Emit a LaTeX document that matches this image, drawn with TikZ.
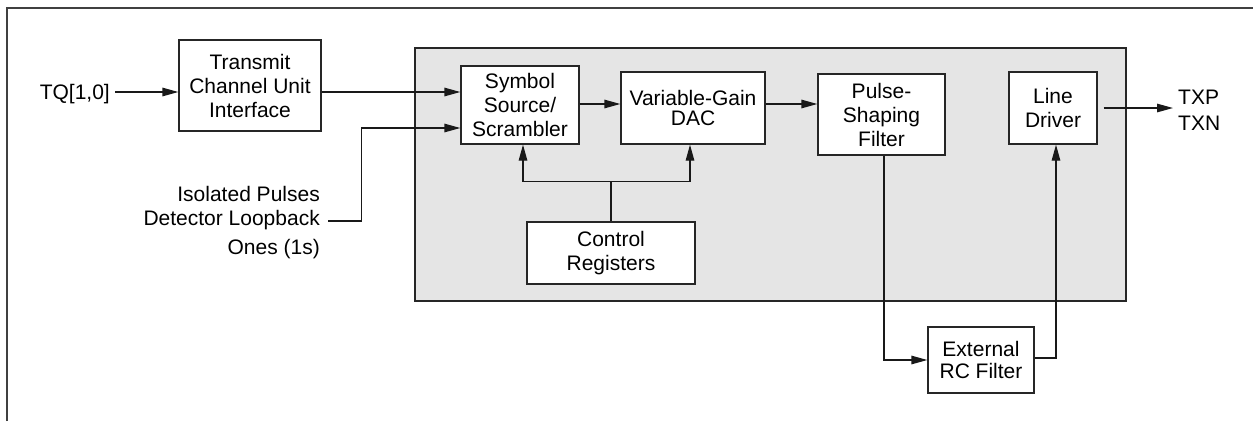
\documentclass[tikz,border=0pt]{standalone}
\usepackage{fontspec}
\setmainfont{Liberation Sans}
\usetikzlibrary{arrows.meta}
\begin{document}
\begin{tikzpicture}[x=1pt,y=-1pt,
  blk/.style={draw=black!85, line width=1.3pt, fill=white, align=center, inner sep=0pt, font=\fontsize{21}{24}\selectfont},
  lbl/.style={inner sep=0pt, font=\fontsize{21}{24}\selectfont},
  conn/.style={line width=1.3pt, draw=black!90},
  arr/.style={conn, -{Triangle[length=16pt,width=8.5pt]}},
]
\useasboundingbox (0,0) rectangle (1253,421);
\draw[line width=2pt, black!75] (7,421) -- (7,8) -- (1253,8);
\node[draw=black!85, line width=1.5pt, fill=black!10, minimum width=711pt, minimum height=253pt, inner sep=0pt] (chip) at (770.5,174.5) {};

\node[blk, minimum width=142pt, minimum height=91pt] (tcui) at (250,85.5) {Transmit\\Channel Unit\\Interface};
\node[blk, minimum width=118pt, minimum height=78pt] (sym) at (520,105) {Symbol\\Source/\\Scrambler};
\node[blk, minimum width=144pt, minimum height=72pt, font=\fontsize{21}{20}\selectfont] (dac) at (693,108) {Variable-Gain\\DAC};
\node[blk, minimum width=127pt, minimum height=81pt] (psf) at (881.5,114.5) {Pulse-\\Shaping\\Filter};
\node[blk, minimum width=168pt, minimum height=62pt] (cr) at (611,253) {Control\\Registers};
\node[blk, minimum width=88pt, minimum height=72pt] (ld) at (1053,108) {Line\\Driver};
\node[blk, minimum width=106pt, minimum height=66pt, font=\fontsize{21}{22}\selectfont] (erc) at (981,360) {External\\RC Filter};

\node[lbl, anchor=east] (tq) at (110,94) {TQ[1,0]};
\node[lbl, align=right, anchor=east] (iso) at (320,222.5) {Isolated Pulses\\Detector Loopback\\[5pt]Ones (1s)};
\node[lbl, align=left, anchor=west] (tx) at (1178,110) {TXP\\[2pt]TXN};

% connectors
\draw[arr, shorten <=5pt] ([yshift=2pt]tq.east) -- ([yshift=2pt]tq.east -| tcui.west);
\draw[arr] ([yshift=-6.5pt]tcui.east) -- ([yshift=13pt]sym.west);
\draw[arr] ([xshift=8pt,yshift=1.5pt]iso.east) -| ([xshift=-99pt,yshift=-23pt]sym.west) -- ([yshift=-23pt]sym.west);
\draw[arr] ([yshift=1pt]sym.east) -- ([yshift=4pt]dac.west);
\draw[arr] ([yshift=4pt]dac.east) -- ([yshift=10.5pt]psf.west);
\coordinate (bus) at ([yshift=40pt]cr.north);
\draw[conn] (cr.north) -- (bus);
\draw[arr] (bus) -| ([xshift=3pt]sym.south);
\draw[arr] (bus) -| ([xshift=-3pt]dac.south);
\draw[arr] ([xshift=2.5pt]psf.south) |- (erc.west);
\draw[arr] ([yshift=2pt]erc.east) -| ([xshift=3pt]ld.south);
\draw[arr, shorten <=6pt, shorten >=5pt] (ld.east) -- (ld.east -| tx.west);
\end{tikzpicture}
\end{document}
